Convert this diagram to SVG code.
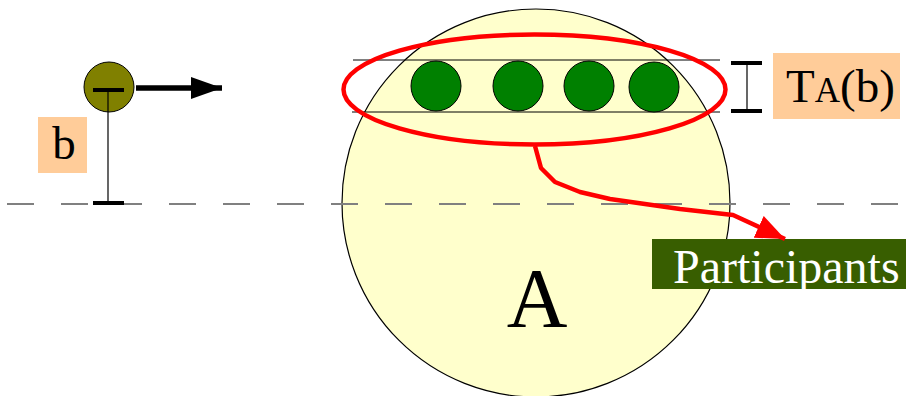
<svg xmlns="http://www.w3.org/2000/svg" width="906" height="396" viewBox="0 0 906 396">
<style>
.bar{stroke:#000;stroke-width:4}
.thin{stroke:#000;stroke-width:1.2}
.label{fill:#FFCC99}
.part{fill:#008000;stroke:#000;stroke-width:1}
</style>
<defs>
<marker id="blk" markerWidth="32" markerHeight="22" refX="31" refY="11" orient="auto" markerUnits="userSpaceOnUse"><path d="M0,0 L31,11 L0,22 Z" fill="#000"/></marker>
<marker id="red" markerWidth="30" markerHeight="24" refX="29" refY="12" orient="auto" markerUnits="userSpaceOnUse"><path d="M0,0 L29,12 L0,24 Z" fill="#FF0000"/></marker>
</defs>
<g id="groupA">
<circle cx="536" cy="203" r="194" fill="#FFFFCC" stroke="#000" stroke-width="1.2"/>
<text x="537" y="327" font-size="84" text-anchor="middle" font-family="Liberation Serif, Times New Roman, serif" fill="#000">A</text>
</g>
<g id="baseline">
<line x1="0" y1="204" x2="906" y2="204" stroke="#808080" stroke-width="2" stroke-dasharray="27,27" stroke-dashoffset="-7"/>
</g>
<g id="band">
<line x1="353" y1="60" x2="720" y2="60" stroke="#000" stroke-width="1"/>
<line x1="352" y1="112" x2="720" y2="112" stroke="#000" stroke-width="1"/>
</g>
<g id="participants">
<circle class="part" cx="436" cy="86" r="25"/>
<circle class="part" cx="518" cy="86" r="25"/>
<circle class="part" cx="589" cy="86" r="25"/>
<circle class="part" cx="654" cy="87" r="25"/>
</g>
<g id="selection">
<ellipse cx="534.5" cy="89.5" rx="191" ry="55" fill="none" stroke="#FF0000" stroke-width="4.5"/>
</g>
<g id="ta-measure">
<line class="thin" x1="747" y1="63" x2="747" y2="111"/>
<line class="bar" x1="731" y1="63" x2="762" y2="63"/>
<line class="bar" x1="731" y1="111" x2="762" y2="111"/>
</g>
<g id="ta-label">
<rect class="label" x="773" y="53" width="127" height="66"/>
<text x="786" y="102" font-size="47" font-family="Liberation Serif, Times New Roman, serif" fill="#000">T<tspan font-size="35">A</tspan>(b)</text>
</g>
<g id="ball">
<circle cx="109" cy="87" r="25" fill="#808000" stroke="#000" stroke-width="1"/>
<line class="thin" x1="108" y1="90" x2="108" y2="203"/>
<line class="bar" x1="93" y1="90" x2="124" y2="90"/>
<line class="bar" x1="93" y1="203" x2="124" y2="203"/>
</g>
<g id="b-label">
<rect class="label" x="38" y="117" width="49" height="56"/>
<text x="64" y="159" font-size="47" text-anchor="middle" font-family="Liberation Serif, Times New Roman, serif" fill="#000">b</text>
</g>
<g id="participants-label">
<rect x="652" y="239" width="254" height="50" fill="#385E00"/>
<text x="673" y="283" font-size="48" font-family="Liberation Serif, Times New Roman, serif" fill="#FFFFFF">Participants</text>
</g>
<g id="connectors">
<line x1="136" y1="88" x2="222" y2="88" stroke="#000" stroke-width="5.5" marker-end="url(#blk)"/>
<polyline points="535,146 541,168 555,182 580,192 610,199 680,209 733,215 785,239" fill="none" stroke="#FF0000" stroke-width="4.5" stroke-linejoin="round" marker-end="url(#red)"/>
</g>
</svg>
